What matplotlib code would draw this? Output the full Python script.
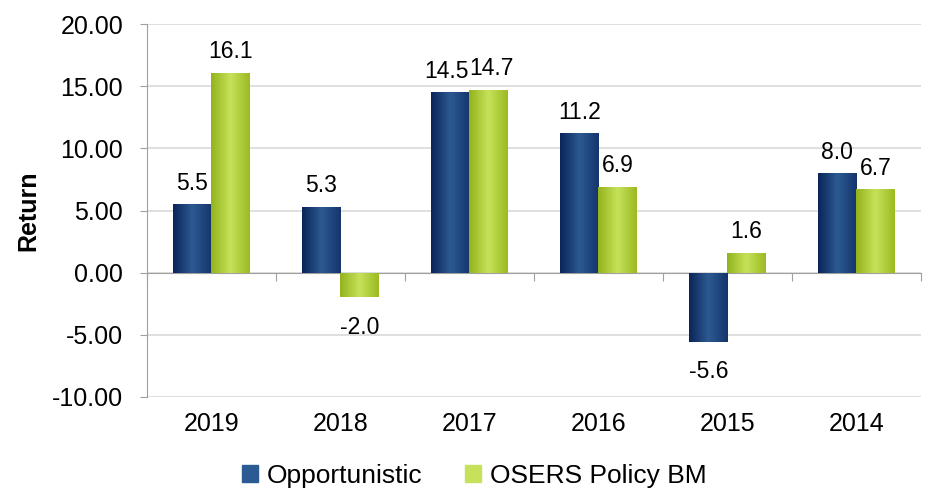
import numpy as np
import matplotlib.pyplot as plt
from matplotlib.patches import Patch
from matplotlib.colors import LinearSegmentedColormap
import matplotlib.transforms as mtransforms

plt.rcParams['font.family'] = ['Liberation Sans', 'DejaVu Sans']

years = ['2019', '2018', '2017', '2016', '2015', '2014']
opportunistic = [5.5, 5.3, 14.5, 11.2, -5.6, 8.0]
policy_bm = [16.1, -2.0, 14.7, 6.9, 1.6, 6.7]
series_names = ['Opportunistic', 'OSERS Policy BM']

# edge / centre / edge shades for the cylinder look
blue_shades = ['#0b2559', '#2c5a92', '#16346c']
green_shades = ['#93b31c', '#c6e25a', '#9cba22']

FS = 18

fig = plt.figure(figsize=(9.34, 5.03), dpi=100)
ax = fig.add_axes([0.157, 0.211, 0.829, 0.741])

x = np.arange(len(years))
w = 0.295


def gradient_bars(xs, vals, shades):
    cmap = LinearSegmentedColormap.from_list('g', shades)
    grad = np.linspace(0, 1, 64).reshape(1, -1)
    bars = ax.bar(xs, vals, width=w, color=shades[1], linewidth=0, zorder=2)
    for b in bars:
        x0, y0 = b.get_x(), b.get_y()
        im = ax.imshow(grad, cmap=cmap, aspect='auto', zorder=3,
                       extent=[x0, x0 + b.get_width(), y0, y0 + b.get_height()],
                       interpolation='bilinear')
        im.set_clip_path(b)
    return bars


b1 = gradient_bars(x - w / 2, opportunistic, blue_shades)
b2 = gradient_bars(x + w / 2, policy_bm, green_shades)

for side, bars, vals in ((-1, b1, opportunistic), (1, b2, policy_bm)):
    for i, (b, v) in enumerate(zip(bars, vals)):
        off = 7 if v >= 0 else -13
        # push apart labels of two bars with almost the same height
        dx = side * 2.5 if abs(opportunistic[i] - policy_bm[i]) < 1 else 0
        ax.annotate(f'{v:.1f}', (b.get_x() + b.get_width() / 2, v),
                    xytext=(dx, off), textcoords='offset points',
                    ha='center', va='bottom' if v >= 0 else 'top',
                    fontsize=16.5, zorder=4)

ax.set_xlim(-0.5, len(years) - 0.5)
ax.set_ylim(-10, 20)
ax.set_yticks(np.arange(-10, 21, 5))
ax.set_yticklabels([f'{t:.2f}' for t in np.arange(-10, 21, 5)])
ax.tick_params(axis='y', labelsize=FS, length=5, color='#a0a0a0', pad=12)
ax.yaxis.grid(True, color='#d9d9d9', linewidth=1.2, zorder=0)
ax.set_axisbelow(True)
ax.set_ylabel('Return', fontsize=FS, fontweight='bold', labelpad=8)

# category axis sits on zero, labels stay at the bottom
ax.spines['bottom'].set_position(('data', 0))
ax.spines['bottom'].set_color('#a0a0a0')
ax.spines['left'].set_color('#a0a0a0')
ax.spines['top'].set_visible(False)
ax.spines['right'].set_visible(False)
ax.set_xticks(np.arange(len(years) + 1) - 0.5)
ax.set_xticklabels([])
ax.tick_params(axis='x', length=6, color='#a0a0a0', direction='out')

trans = mtransforms.blended_transform_factory(ax.transData, ax.transAxes)
for xi, yr in zip(x, years):
    ax.text(xi, -0.04, yr, transform=trans, ha='center', va='top', fontsize=FS)

handles = [Patch(color=blue_shades[1]), Patch(color=green_shades[1])]
fig.legend(handles, series_names, loc='lower center', ncol=2, frameon=False,
           fontsize=FS + 1, bbox_to_anchor=(0.508, -0.017), handlelength=0.6,
           handleheight=0.6, handletextpad=0.35, columnspacing=1.6)

fig.savefig('out.png', dpi=100)
